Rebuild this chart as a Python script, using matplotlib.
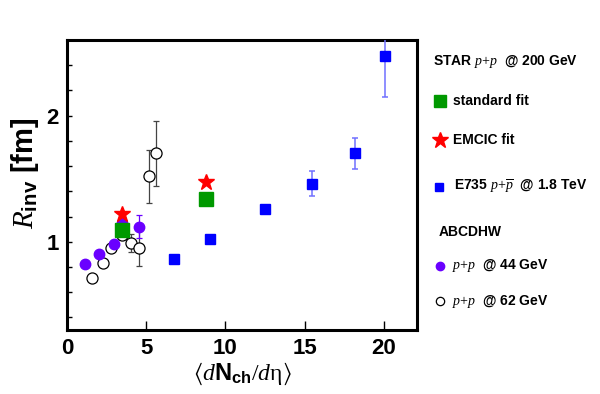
import matplotlib
matplotlib.use("Agg")
import matplotlib.pyplot as plt
from matplotlib.lines import Line2D
import numpy as np

# ------------------------------------------------------------------------------
# Data
e735_x = [6.75, 9.0, 12.5, 15.5, 18.2, 20.1]
e735_y = [0.86, 1.02, 1.26, 1.46, 1.70, 2.47]
e735_err = [0.025, 0.035, 0.035, 0.10, 0.12, 0.32]

star_x = [3.45, 8.75]
star_std_y = [1.09, 1.34]
star_emcic_y = [1.22, 1.47]

abc44_x = [1.15, 2.0, 2.95, 3.5, 4.55]
abc44_y = [0.82, 0.90, 0.98, 1.15, 1.12]
abc44_err = [0.02, 0.02, 0.03, 0.04, 0.09]

abc62_x = [1.6, 2.25, 2.8, 3.5, 4.05, 4.55, 5.2, 5.65]
abc62_y = [0.71, 0.83, 0.95, 1.05, 0.99, 0.95, 1.52, 1.70]
abc62_err = [0.01, 0.01, 0.02, 0.03, 0.07, 0.14, 0.21, 0.26]

x_ticks = [0, 5, 10, 15, 20]
y_ticks = [1, 2]

# ------------------------------------------------------------------------------
plt.rcParams["font.family"] = "Liberation Sans"
plt.rcParams["mathtext.fontset"] = "custom"
plt.rcParams["mathtext.rm"] = "Liberation Serif"
plt.rcParams["mathtext.it"] = "Liberation Serif:italic"
plt.rcParams["mathtext.bf"] = "Liberation Sans:bold"
plt.rcParams["mathtext.sf"] = "Liberation Sans"
plt.rcParams["mathtext.fallback"] = "stix"

W, H = 600, 394
fig = plt.figure(figsize=(6.0, 3.94), dpi=100)
ax = fig.add_axes([67/W, 1-330/H, (417-67)/W, (330-40)/H])

purple = "#6a00ff"
ebar_blue = "#7070ff"

# ABCDHW 62 GeV (open circles)
ax.errorbar(abc62_x, abc62_y, yerr=abc62_err, fmt="o", ms=8, mfc="white",
            mec="black", mew=0.9, ecolor="#444444", elinewidth=0.9,
            capsize=2, capthick=0.9, zorder=2)
# ABCDHW 44 GeV
ax.errorbar(abc44_x, abc44_y, yerr=abc44_err, fmt="o", ms=7.5, color=purple,
            mec=purple, ecolor=purple, elinewidth=0.9, capsize=2,
            capthick=0.9, zorder=3)
# E735
ax.errorbar(e735_x, e735_y, yerr=e735_err, fmt="s", ms=7, color="blue",
            mec="blue", ecolor=ebar_blue, elinewidth=1.1, capsize=2,
            capthick=1.1, zorder=3)
# STAR
ax.plot(star_x, star_std_y, "s", ms=9.5, color="#009900", zorder=4)
ax.plot(star_x, star_emcic_y, "*", ms=12, color="red", mec="red", zorder=5)

ax.set_xlim(0, 22.1)
ax.set_ylim(0.3, 2.6)
ax.set_xticks(x_ticks)
ax.set_yticks(y_ticks)
ax.set_yticks(np.arange(0.4, 2.6, 0.2), minor=True)
ax.tick_params(axis="both", which="both", direction="in", top=False,
               right=False, labelsize=16)
ax.tick_params(axis="x", which="major", length=6.5, width=1, pad=6)
ax.tick_params(axis="y", which="both", length=3.6, width=1, pad=6)
for lab in ax.get_xticklabels() + ax.get_yticklabels():
  lab.set_fontweight("bold")
for sp in ax.spines.values():
  sp.set_linewidth(2.2)

fig.text(242/W, 1-374/H,
         r"$\langle d\mathbf{N}_{\mathbf{ch}}/d\mathrm{\eta}\rangle$",
         fontsize=17, ha="center", va="center")
fig.text(25/W, 1-173/H, r"$R_{\mathbf{inv}}$ [fm]", rotation=90,
         fontsize=21, fontweight="bold", ha="center", va="center")

# Legend drawn as text and marker entries right of the frame
def leg_text(px, py, s):
  fig.text(px/W, 1-py/H, s, fontsize=10, fontweight="bold", ha="left",
           va="center")

def leg_mark(px, py, **kw):
  fig.add_artist(Line2D([px/W], [1-py/H], transform=fig.transFigure,
                        ls="", **kw))

leg_text(433, 61, r"STAR $p{+}p$  @ 200 GeV")
leg_mark(440, 101, marker="s", ms=9, color="#009900")
leg_text(453, 101, "standard fit")
leg_mark(440, 140, marker="*", ms=12, color="red")
leg_text(453, 140, "EMCIC fit")
leg_mark(439, 187, marker="s", ms=5.5, color="blue")
leg_text(454, 187, r"E735 $p{+}\overline{p}$  @ 1.8 TeV")
leg_text(439, 232, "ABCDHW")
leg_mark(440, 266, marker="o", ms=6, color=purple)
leg_text(452, 266, r"$p{+}p$  @ 44 GeV")
leg_mark(440, 301, marker="o", ms=6, mfc="white", mec="black", mew=0.9)
leg_text(452, 301, r"$p{+}p$  @ 62 GeV")

fig.savefig("out.png", dpi=100)
